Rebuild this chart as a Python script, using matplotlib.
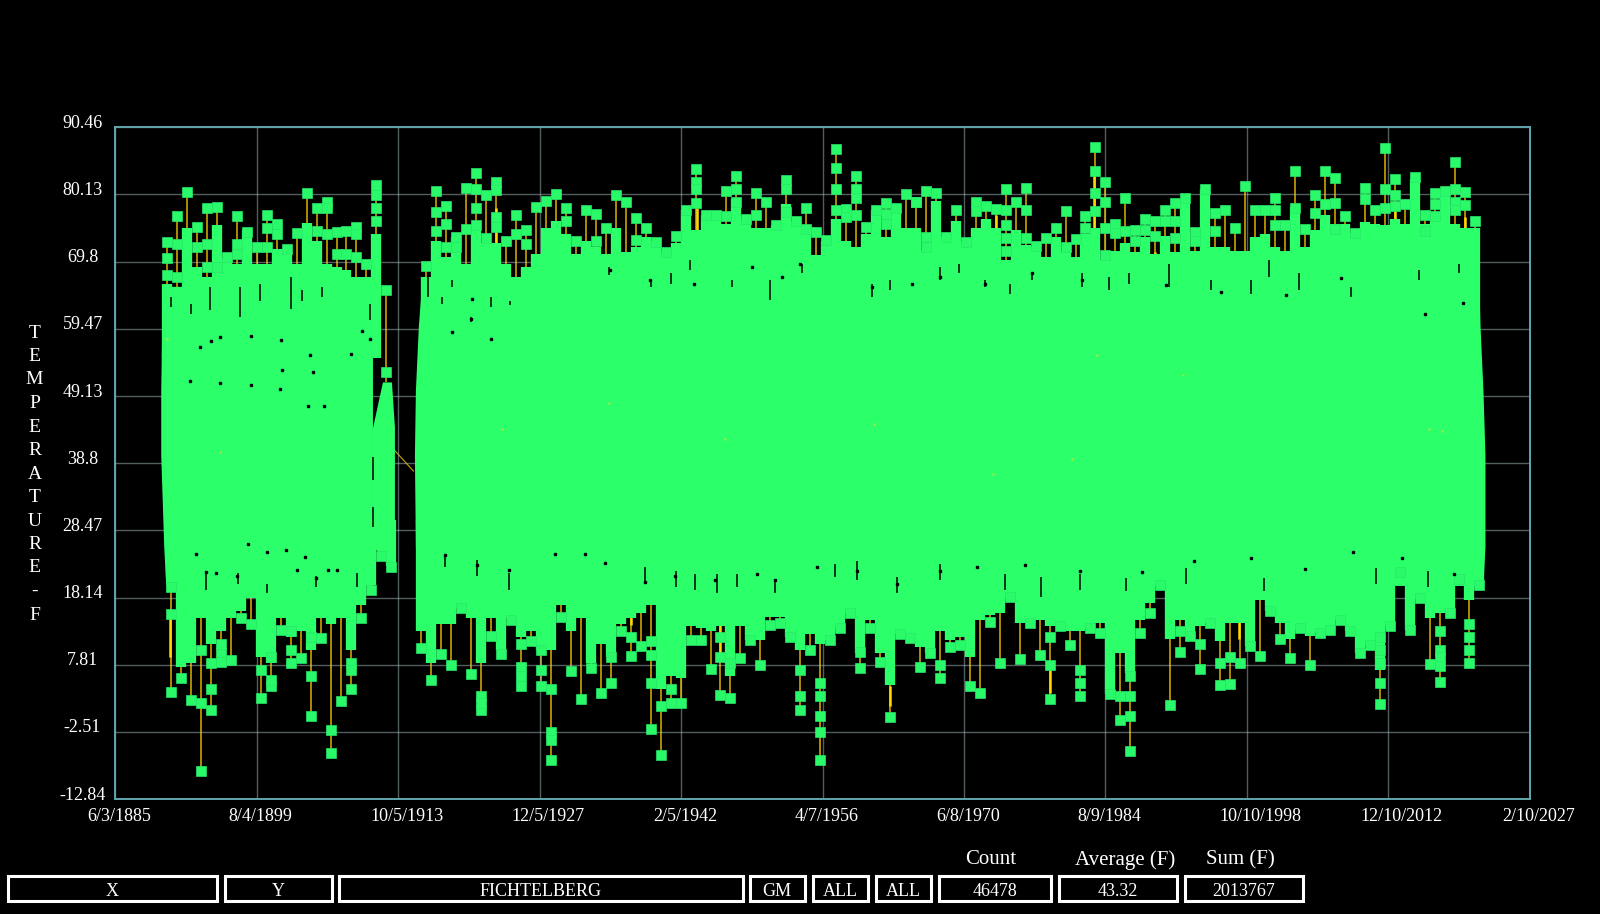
import matplotlib
matplotlib.use("Agg")
import matplotlib.pyplot as plt
from matplotlib.patches import Rectangle
from matplotlib.transforms import ScaledTranslation

plt.rcParams['font.family'] = ['Liberation Serif', 'DejaVu Serif']

# ---- axis ticks ----
x_ticks = [1885.42, 1899.59, 1913.76, 1927.93, 1942.10, 1956.27, 1970.44, 1984.60, 1998.77, 2012.94, 2027.11]
x_labels = ['6/3/1885', '8/4/1899', '10/5/1913', '12/5/1927', '2/5/1942', '4/7/1956', '6/8/1970',
            '8/9/1984', '10/10/1998', '12/10/2012', '2/10/2027']
y_ticks = [-12.84, -2.51, 7.81, 18.14, 28.47, 38.8, 49.13, 59.47, 69.8, 80.13, 90.46]
y_labels = ['-12.84', '-2.51', '7.81', '18.14', '28.47', '38.8', '49.13', '59.47', '69.8', '80.13', '90.46']
y_title = 'TEMPERATURE - F'

# ---- summer peaks ----
summer_years = list(range(1890, 1913)) + list(range(1916, 2022))
summer_high = [72.8, 76.8, 80.5, 75.1, 78.1, 78.2, 70.5, 76.8, 74.4, 72, 77, 75.6, 71.8, 74.2, 80.4, 78.1, 79, 74.3, 74.5, 75.2, 69.5, 81.6, 65.4,
               69.2, 80.7, 78.3, 73.6, 81.1, 83.5, 80, 82, 72.9, 77,
               74.6, 78.2, 79.2, 80.2, 78, 72.9, 77.7, 77.1, 75, 80,
               78.9, 76.5, 74.9, 72.8, 71.3, 73.7, 77.7, 84, 77, 76.9,
               80.7, 83, 76.4, 80.4, 78.9, 75.4, 82.3, 76.1, 78.1, 74.4,
               73.1, 87.1, 77.9, 83, 75.1, 77.7, 78.8, 78.1, 80.2, 78.9,
               80.7, 80.3, 73.6, 77.7, 72.8, 78.9, 78.3, 77.9, 80.9, 78.9,
               81.2, 72.2, 73.5, 74.9, 77.6, 73.3, 76.8, 87.5, 82.1, 75.6,
               79.6, 74.7, 76.4, 76.1, 77.8, 78.8, 79.6, 74.4, 81, 77.3,
               77.8, 75, 81.4, 77.8, 77.7, 79.6, 75.4, 83.7, 74.8, 80,
               83.7, 82.6, 76.8, 74.2, 81.2, 77.8, 87.2, 82.5, 78.7, 82.8,
               77, 80.4, 80.6, 85.1, 80.5, 76.1]
summer_body = [66.4, 64.4, 74.9, 69, 67.4, 75.4, 70.3, 69.5, 74.6, 69.5, 69.5, 71.8, 71.8, 69.5, 75.7, 73, 69.5, 69, 68.5, 67.4, 67.4, 74.1, 51.3,
               67.4, 73, 70.5, 73.6, 69.5, 74.6, 72.6, 72.6, 69.5, 67.4,
               69, 71, 75, 76, 74, 71, 73, 72, 71, 75,
               71.3, 72, 73.6, 73, 71.3, 72.6, 77.7, 74.6, 77, 76.9,
               75.6, 79.5, 76.4, 75, 74.9, 75.4, 78.7, 76.1, 75.4, 70.8,
               73, 76.4, 73, 72, 74, 77.7, 73.6, 78.1, 75, 74.9,
               71.5, 79.2, 73.6, 76.1, 72.8, 74.9, 76.4, 75, 70, 74.6,
               72.3, 72, 70.5, 73.6, 71.3, 70.5, 74, 75, 70, 71.5,
               72.6, 71.3, 73.6, 71, 73.8, 71.3, 79.2, 71.5, 81, 72,
               72, 71.5, 71.5, 73.6, 74.1, 72, 71.5, 78.2, 72, 74.6,
               76.9, 75.6, 75.6, 74.2, 75.9, 75.6, 75.4, 76.4, 75.6, 82.5,
               75.6, 76.1, 80.6, 75.6, 74.9, 74.9]
upper_mid_years = [1890, 1890, 1891, 1891, 1893, 1894, 1894, 1895, 1897, 1897, 1900, 1900, 1901, 1905, 1906, 1906, 1907, 1908, 1909, 1909,
                   1911, 1911, 1911, 1912, 1917, 1917, 1918, 1918, 1919, 1920, 1921, 1921, 1921, 1922, 1923, 1923, 1923, 1925, 1926, 1930, 1933,
                   1937, 1943, 1943, 1943, 1946, 1947, 1947, 1949, 1952, 1952, 1954, 1957, 1957, 1957, 1958, 1959, 1959, 1959, 1962, 1962,
                   1965, 1966, 1966, 1971, 1974, 1974, 1974, 1974, 1976, 1976, 1980, 1982,
                   1983, 1983, 1983, 1984, 1984, 1984, 1985, 1986, 1987, 1988, 1989, 1990, 1991, 1991, 1993, 1995, 2001, 2001, 2003, 2005, 2006,
                   2007, 2007, 2010, 2012, 2012, 2013, 2013, 2016, 2017, 2017, 2019, 2019, 2019, 2020]
upper_mid_temps = [70.3, 67.7, 72.5, 67.5, 72, 72.5, 69, 69, 72.5, 71, 75, 72, 74, 74.5, 78, 74, 71, 71, 74, 70.5,
                   80, 78, 76, 52.9, 77.5, 74.5, 75.6, 72, 72, 74.8, 81, 78, 75.5, 73.5, 80.8, 76.7, 75.2, 74, 72.5, 76, 73,
                   73.2, 82, 81, 78.8, 76.8, 81, 79, 76.9, 81, 77.5, 74.8, 84.2, 81, 77.7, 76.7, 81, 79.6, 76.9, 77.2, 75.6,
                   79, 73.6, 72, 77.6, 77.8, 75.5, 73.5, 71.5, 77.8, 73.5, 72, 75,
                   83.7, 80.3, 77.6, 79, 75, 70.8, 74.2, 74.5, 73, 74.6, 73.7, 76, 76, 73.5, 73, 74.5, 77.8, 75.5, 78, 77.3, 78.7,
                   78.8, 74.8, 79.5, 80.9, 78, 80, 78.4, 74.5, 78.7, 76.8, 81, 79, 77.7, 78.5]

# ---- winter lows ----
winter_years = list(range(1891, 1914)) + list(range(1916, 2023))
winter_low = [3.6, 5.8, 2.4, -8.5, 0.9, 8.3, 8.6, 15, 14, 2.7, 4.5, 13.2, 8, 8.8, 0, 11.9, -5.7, 2.2, 4.1, 15, 19.3, 24.6, 22.9,
              10.4, 5.4, 9.4, 7.7, 16.5, 6.4, 0.9, 12.2, 9.4, 14.7,
              4.6, 11.4, 4.5, -6.8, 15.1, 6.9, 2.5, 7.3, 3.4, 5,
              13, 9.1, 10.7, -2.1, -6, 2, 1.9, 11.6, 11.6, 7.1,
              3.2, 2.7, 8.8, 11.6, 7.8, 13.9, 14.2, 12, 0.9, 10.1,
              -6.9, 11.6, 13.4, 15.7, 7.3, 13.4, 8.3, -0.3, 12.6, 11.9,
              7.5, 9.6, 5.8, 10.6, 10.9, 4.5, 3.5, 14.4, 8, 18.2,
              8.7, 14.2, 9.3, 2.6, 13.7, 10.9, 3, 13.4, 12.7, 3.3,
              -0.7, -5.4, 12.7, 15.8, 20, 1.6, 9.7, 12.2, 7.2, 14.2,
              4.7, 4.8, 8, 10.7, 9.2, 16, 11.7, 8.8, 13.4, 7.7,
              12.7, 13.2, 14.7, 13, 9.6, 10.9, 1.8, 13.7, 22, 13.2,
              18, 7.9, 5.1, 15.8, 21, 8, 20]
winter_body = [21.3, 7.5, 8, 15, 11, 13, 15, 16, 18, 9, 8, 15, 12, 13, 10, 15, 14, 15, 10, 17, 20, 26, 23,
               13, 8, 14, 14, 16.5, 15, 8, 15, 10, 15,
               12, 13, 10, 10, 17, 13, 15, 8, 11, 9,
               14, 15, 15.7, 17, 4, 6, 5.8, 13.7, 13.4, 13,
               13.7, 6, 13.7, 11.6, 11.6, 15.2, 15.2, 12.1, 10, 12.6,
               11, 11.6, 13.4, 15.7, 9.6, 14.7, 9.6, 4.7, 12.6, 11.9,
               10.6, 9.6, 13, 11.6, 12.1, 9, 14.7, 15.4, 15.7, 18.2,
               14.2, 14.2, 14.7, 13.7, 13.7, 13, 13, 13.4, 14.2, 3.3,
               9.6, 6.6, 14.7, 17.3, 20, 11.7, 14.7, 12.2, 13.7, 14.2,
               11.4, 14.2, 14.2, 10.7, 17.8, 16, 14.2, 11.7, 13.2, 12.2,
               12.7, 13.2, 14.7, 13, 9.6, 10.9, 7, 13.7, 22.3, 13.2,
               18, 15, 15.7, 15.8, 21.5, 17.8, 20]
lower_mid_years = [1891, 1891, 1894, 1894, 1895, 1895, 1896, 1896, 1900, 1901, 1901, 1903, 1903, 1905, 1905, 1907, 1909, 1909,
                   1922, 1922, 1926, 1926, 1926, 1928, 1928, 1929, 1929, 1929, 1935, 1937, 1939, 1939, 1939, 1940, 1941, 1946, 1946, 1947,
                   1954, 1954, 1956, 1956, 1956, 1956, 1960, 1968, 1979, 1979, 1982, 1982,
                   1986, 1987, 1987, 1987, 1992, 1994, 1996, 1997, 2012, 2012, 2012, 2012, 2018, 2018, 2018, 2018, 2021, 2021, 2021]
lower_mid_temps = [15.6, 19.7, 2, 10, 4, 8, 9.8, 11, 7, 5.5, 9, 10, 13, 6, 12, -2.2, 8, 7,
                   3, 2, 11, 7.5, 6, 10, 7, -2.5, -3.8, 4, 9, 12, 5, 11.4, 9.3, 1.5, 4, 9, 12, 8,
                   7, 3, 3, 0, 5, -2.5, 9.8, 7.8, 7.8, 12, 7, 5,
                   3, 0, 3, 6, 13, 11, 8, 9, 5, 8, 10, 12, 13, 10, 9, 7.6, 14, 12, 10]

# ---- solid mass of daily readings ----
block1_temps = [20, 26, 40, 50, 60, 66]
block1_left = [1890.5, 1890.3, 1890.0, 1890.0, 1890.1, 1890.2]
block1_right = [1911.2, 1911.2, 1911.2, 1911.2, 1911.2, 1911.2]
block2_temps = [20, 26, 40, 50, 60, 66]
block2_left = [1915.7, 1915.5, 1915.4, 1915.5, 1915.8, 1916.1]
block2_right = [2022.4, 2022.6, 2022.6, 2022.4, 2022.1, 2022.0]
block3_years = [1911.15, 1912.2, 1913.1, 1913.4]
block3_upper = [43.9, 51.3, 51.3, 44.4]
block3_lower = [26, 24.6, 22.4, 22.4]
link_years = [1913.4, 1915.3]
link_temps = [40.8, 37.6]

# ---- gaps in the mass ----
gap_years = [1893.9, 1895, 1895.95, 1899, 1902, 1904.9, 1905.2, 1902.1, 1909.1, 1911.0, 1892.9, 1895.95, 1899, 1901.9, 1910.2,
             1919.2, 1923.1, 1921.1, 1921.2, 1904.7, 1906.3,
             1893.5, 1894.5, 1895.5, 1897.6, 1898.7, 1900.6, 1902.5, 1903.6, 1904.4, 1905.5, 1906.7, 1907.6,
             1918.5, 1921.7, 1924.9, 1929.5, 1932.5, 1934.5,
             1938.5, 1941.5, 1945.5, 1949.7, 1951.5, 1955.7, 1959.7, 1963.7, 1968, 1971.7, 1976.5, 1982,
             1935, 1939, 1943.4, 1949.2, 1952.2, 1954, 1961.2, 1965.2, 1968, 1972.5, 1977.2, 1982.2,
             1988.3, 1993.5, 1999.2, 2004.6, 2009.4, 2014.3, 2019.5, 2016.6, 2020.4, 1990.7, 1996.2, 2002.7, 2008.2]
gap_temps = [56.7, 57.6, 58.2, 58.3, 57.8, 55.4, 52.8, 53.1, 55.6, 57.9, 51.5, 51.1, 50.8, 50.2, 59.2,
             59, 57.9, 61, 64.1, 47.6, 47.6,
             24.8, 22, 21.9, 21.5, 26.4, 25.2, 25.4, 22.4, 24.4, 21.1, 22.4, 22.4,
             24.7, 23.1, 22.4, 24.9, 24.8, 23.4,
             20.5, 21.5, 20.8, 21.8, 20.8, 22.8, 22.3, 20.3, 22.3, 22.8, 23.1, 22.3,
             68.5, 67, 66.4, 69, 67.5, 69.5, 65.9, 66.4, 67.5, 66.4, 68, 66.9,
             22.1, 23.8, 24.3, 22.6, 25.1, 24.2, 21.7, 61.8, 63.4, 66.2, 65.1, 64.7, 67.3]
amber_years = [1890.6, 1934.9, 1924.2, 1983.8, 1992.4, 1973.3, 2017, 1946.5, 1981.2, 1895.9, 2018.3, 1961.4]
amber_temps = [57.9, 48, 44, 55.4, 52.3, 37.2, 44.1, 42.6, 39.4, 40.5, 43.8, 44.8]

slit_years = [1891, 1893, 1894.95, 1897.95, 1899.95, 1903, 1904.1, 1906.1, 1911, 1916.8, 1918.2, 1919.2, 1921.1, 1923.1, 1925,
              1934.9, 1939.1, 1941.1, 1943, 1947.2, 1951, 1954.2, 1961.2, 1963, 1968, 1969.9, 1972.5, 1975, 1977.2, 1982.2,
              1985, 1987, 1991, 1995.2, 1999.2, 2001, 2004, 2009.2, 2016, 2020,
              1938.5, 1941.6, 1943.5, 1945.7, 1947.7, 1951.5, 1957.5, 1959.7, 1963.7, 1968, 1974.5, 1978.1, 1982,
              1924.9, 1921.7, 1918.5, 1909.7, 1905.5, 1900.6, 1897.7, 1894.5,
              1986.7, 1992.7, 2000.5, 2011.7, 2016.9, 1911.3, 1911.3]
slit_top = [64.3, 63.3, 65.9, 65.9, 66.4, 67.4, 65.4, 65.9, 63.3, 67.4, 64.3, 66.9, 61.3, 64.4, 63.8,
            69, 66.9, 68, 70, 66.9, 66.9, 69.5, 66.4, 66.9, 69, 69.5, 66.9, 66.4, 68, 68,
            67.5, 68, 69.5, 66.9, 66.9, 70, 68, 65.9, 68.5, 69.5,
            22.8, 22.3, 21.8, 21.8, 21.8, 20.8, 23.3, 23.8, 21.3, 23.3, 21.8, 21.3, 21.8,
            21.9, 23.9, 24.9, 21.9, 21.4, 20.3, 21.9, 21.9,
            21.2, 22.7, 21.2, 22.7, 22.2, 39.8, 32.1]
slit_bottom = [62.8, 61.8, 62.3, 61.3, 63.8, 62.5, 63.8, 64.3, 60.8, 64.4, 63.3, 65.9, 60.5, 62.8, 63.1,
               67.7, 65.9, 66.4, 68.5, 65.9, 63.9, 68, 64.4, 65.4, 66.9, 68, 65.9, 64.9, 66.9, 65.9,
               65.5, 66.4, 65.9, 65.4, 64.9, 67.5, 65.4, 64.4, 66.9, 68,
               20.3, 19.8, 19.3, 18.8, 19.8, 18.8, 21.3, 20.8, 18.8, 20.8, 19.3, 18.2, 19.3,
               19.3, 21.4, 22.9, 19.8, 19.8, 18.8, 20.3, 19.3,
               19.2, 20.2, 19.2, 20.2, 19.7, 36.2, 29]

bright_years = [1890.9, 1923.6, 1937.1, 1943, 1946, 1963, 1961, 1979, 1998, 1985, 1999.1, 1943.7, 1973.6, 1983.5, 1989.6, 2013.6, 2020.6]
bright_top = [15.7, 78, 16.7, 18, 14.2, 4.5, 21.8, 7, 15.2, 14.2, 15.4, 78, 76.9, 83.3, 71.3, 78, 76.6]
bright_bottom = [9, 72, 13.9, 15.4, 9.1, 1.4, 20.3, 3.5, 11.7, 12.9, 14.4, 74.6, 75, 75, 69.5, 76.1, 74.9]

# ---- footer ----
box_labels = ['X', 'Y', 'FICHTELBERG', 'GM', 'ALL', 'ALL', '46478', '43.32', '2013767']
head_labels = ['Count', 'Average (F)', 'Sum (F)']

GREEN = '#2BFF6A'
MARK = '#2AF96A'
AMBER = '#C9A400'
W, H = 1600, 914

fig = plt.figure(figsize=(16, 9.14), dpi=100, facecolor='black')
ax = fig.add_axes([115/W, 1-799/H, (1530-115)/W, (799-127.3)/H], facecolor='black')
ax.set_xlim(1885.42, 2027.11)
ax.set_ylim(-12.84, 90.46)

sx = [y + 0.6 for y in summer_years]
wx = [y + 0.05 for y in winter_years]

ax.vlines(sx, summer_body, summer_high, color=AMBER, lw=1.2, zorder=2)
ax.vlines(wx, winter_low, winter_body, color=AMBER, lw=1.2, zorder=2)
ax.vlines(bright_years, bright_bottom, bright_top, color='#FFD800', lw=1.8, zorder=2.5)
ax.plot(link_years, link_temps, color=AMBER, lw=0.8, zorder=2)

ax.fill_betweenx(block1_temps, block1_left, block1_right, color=GREEN, lw=0, zorder=3)
ax.fill_betweenx(block2_temps, block2_left, block2_right, color=GREEN, lw=0, zorder=3)
ax.fill_between(block3_years, block3_lower, block3_upper, color=GREEN, lw=0, zorder=3)

ax.vlines(sx, [min(b, 55) for b in summer_body], summer_body, color=GREEN, lw=7.4, zorder=3, capstyle='butt')
ax.vlines(wx, winter_body, [max(b, 30) for b in winter_body], color=GREEN, lw=7.4, zorder=3, capstyle='butt')

mk = dict(ls='none', marker='s', ms=6.9, mfc=MARK, mec='#26E868', mew=0.5, zorder=4)
ax.plot(sx, summer_high, **mk)
ax.plot([y + 0.6 for y in upper_mid_years], upper_mid_temps, **mk)
ax.plot(wx, winter_low, **mk)
ax.plot([y + 0.05 for y in lower_mid_years], lower_mid_temps, **mk)

ax.vlines(slit_years, slit_bottom, slit_top, color='black', lw=1.1, zorder=5)
ax.plot(gap_years, gap_temps, ls='none', marker='s', ms=1.6, mfc='black', mec='black', zorder=5)
ax.plot(amber_years, amber_temps, ls='none', marker='s', ms=1.5, mfc='#C8E030', mec='none', zorder=5)

ax.set_xticks(x_ticks, x_labels)
ax.set_yticks(y_ticks, y_labels)
ax.tick_params(axis='both', length=0, colors='white', labelsize=13)
ax.tick_params(axis='x', pad=6.6)
ax.tick_params(axis='y', pad=23.4)
ax.grid(True, color='#B5CFD2', alpha=0.45, lw=1)
ax.set_axisbelow(False)
for lab in ax.get_xticklabels():
    lab.set_ha('left')
    lab.set_transform(lab.get_transform() + ScaledTranslation(-28/100, 0, fig.dpi_scale_trans))
for lab in ax.get_yticklabels():
    lab.set_ha('center')
    lab.set_transform(lab.get_transform() + ScaledTranslation(0, 6/100, fig.dpi_scale_trans))
for name, sp in ax.spines.items():
    sp.set_color('#5FA6AC')
    sp.set_linewidth(1.4)
    sp.set_zorder(6)

# stacked axis title
rows = [c for c in y_title if c != ' ']
for i, ch in enumerate(rows):
    fig.text(34.5/W, 1-(333 + i*23.5)/H, ch, color='white', fontsize=14, ha='center', va='center')

# footer boxes
spans = [(6, 218), (223, 333), (337, 744), (748, 806), (811, 869), (874.5, 932.6), (937, 1052.5), (1057, 1178.6), (1183, 1304)]
for (a, b), t in zip(spans, box_labels):
    fig.add_artist(Rectangle(((a+1.5)/W, 1-900.5/H), (b-a-3)/W, 25/H, transform=fig.transFigure, fc='black', ec='white', lw=2.2))
    fig.text((a+b)/2/W, 1-891.5/H, t, color='white', fontsize=13, ha='center', va='center')
for cx, t in zip([991, 1125.5, 1240], head_labels):
    fig.text(cx/W, 1-860/H, t, color='white', fontsize=15, ha='center', va='center')

fig.savefig('out.png', dpi=100, facecolor='black')
